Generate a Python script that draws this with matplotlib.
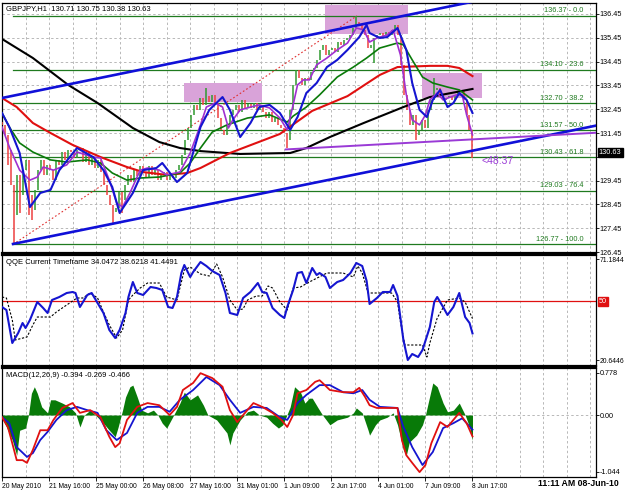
import numpy as np
import matplotlib
matplotlib.use("Agg")
import matplotlib.pyplot as plt
from matplotlib.patches import Rectangle

plt.rcParams['font.family'] = ['Liberation Sans', 'DejaVu Sans']

# ---------------- data ----------------
# x unit: H1 bars since 20 May 2010 00:00
date_ticks = [0, 32, 64, 96, 128, 160, 192, 224, 256, 288, 320]
date_labels = ["20 May 2010", "21 May 16:00", "25 May 00:00", "26 May 08:00",
               "27 May 16:00", "31 May 01:00", "1 Jun 09:00", "2 Jun 17:00",
               "4 Jun 01:00", "7 Jun 09:00", "8 Jun 17:00"]

price_ticks = [126.45, 127.45, 128.45, 129.45, 130.45, 131.45, 132.45,
               133.45, 134.45, 135.45, 136.45]

close = [131.79, 131.37, 130.74, 129.27, 128.00, 129.69, 128.84, 129.89, 130.32, 128.84,
         128.21, 129.06, 129.89, 130.32, 129.69, 130.11, 129.89, 129.47, 130.32, 130.11,
         130.65, 130.32, 130.74, 130.65, 130.40, 130.74, 130.82, 130.23, 130.65, 130.11,
         130.40, 129.98, 130.32, 129.81, 129.27, 128.84, 128.43, 128.13, 128.30, 128.97,
         128.63, 129.27, 129.69, 129.39, 129.89, 129.64, 130.06, 129.81, 129.60, 130.06,
         129.69, 129.89, 129.47, 129.73, 129.81, 129.47, 129.64, 129.56, 129.89, 130.11,
         130.53, 131.16, 131.66, 132.21, 132.63, 132.42, 132.92, 132.63, 133.00, 132.75,
         133.05, 132.71, 132.08, 131.58, 131.37, 131.79, 132.21, 132.42, 132.63, 132.33,
         132.84, 132.50, 132.67, 132.50, 132.71, 132.42, 132.63, 132.33, 132.08, 132.33,
         131.91, 132.08, 131.79, 131.66, 131.45, 131.16, 132.42, 133.47, 134.10, 133.76,
         133.47, 133.76, 133.68, 134.01, 134.18, 134.52, 134.94, 135.15, 134.73, 134.94,
         135.02, 134.85, 135.27, 135.15, 135.36, 135.44, 135.57, 135.86, 136.11, 135.99,
         135.78, 135.57, 135.02, 135.15, 135.44, 135.57, 135.65, 135.53, 135.69, 135.57,
         135.78, 135.99, 135.57, 134.31, 133.05, 132.42, 131.79, 132.21, 131.37, 131.58,
         132.00, 131.66, 132.42, 132.84, 133.26, 133.34, 133.05, 132.84, 132.92, 133.00,
         132.84, 133.05, 133.17, 133.26, 132.84, 132.21, 131.58, 130.63]
first_open = 131.90

wick_idx = [2, 4, 6, 9, 10, 37, 40, 68, 95, 118, 124, 138, 144, 157]
wick_price = [130.10, 126.77, 128.10, 128.00, 127.80, 127.67, 128.10, 133.34, 130.82,
              136.37, 134.40, 131.16, 133.75, 130.38]

black_x = [0, 21, 45, 65, 89, 107, 121, 135, 162, 196, 207, 223, 246, 273, 291, 320]
black_y = [135.40, 134.60, 133.47, 132.71, 131.66, 131.07, 130.82, 130.69, 130.57, 130.61,
           130.82, 131.28, 131.87, 132.54, 132.96, 133.30]

red_x = [0, 10, 21, 33, 48, 67, 85, 96, 112, 126, 135, 155, 189, 211, 235, 257, 269, 291, 303, 311, 320]
red_y = [132.92, 132.54, 131.87, 131.45, 130.95, 130.44, 130.02, 129.81, 129.69, 129.77,
         129.98, 130.61, 131.41, 132.38, 133.00, 133.89, 134.22, 134.27, 134.27, 134.18, 133.84]

green_x = [0, 5, 12, 21, 33, 44, 58, 67, 75, 85, 94, 107, 121, 128, 135, 143, 153, 167, 182,
           194, 198, 207, 216, 228, 239, 248, 257, 269, 273, 279, 286, 293, 303, 311, 320]
green_y = [132.29, 131.70, 131.03, 130.65, 130.32, 130.23, 130.32, 130.19, 129.77, 129.47,
           129.56, 129.60, 129.77, 130.19, 130.82, 131.49, 131.79, 132.08, 132.21, 131.91,
           132.16, 132.54, 133.05, 133.80, 134.22, 134.60, 135.02, 135.23, 135.15, 134.52,
           133.80, 133.55, 133.38, 133.26, 132.84]

blue_x = [0, 5, 12, 19, 26, 33, 39, 51, 62, 69, 75, 80, 89, 96, 105, 109, 119, 126, 135, 141,
          150, 155, 162, 169, 175, 182, 189, 196, 201, 207, 214, 221, 228, 235, 243, 248, 250,
          257, 262, 269, 275, 279, 284, 289, 293, 298, 303, 307, 311, 316, 320]
blue_y = [132.29, 131.70, 130.61, 128.34, 128.93, 129.06, 129.89, 130.82, 130.44, 129.89,
          129.18, 128.09, 128.93, 129.89, 129.98, 130.19, 129.39, 129.77, 131.70, 132.42,
          132.96, 132.42, 131.28, 131.87, 132.54, 132.63, 132.29, 131.58, 132.12, 133.13,
          133.55, 134.22, 134.52, 134.94, 135.48, 135.99, 135.65, 135.44, 135.48, 135.86,
          134.94, 133.55, 132.42, 132.12, 132.84, 133.26, 132.54, 132.71, 133.13, 132.84, 132.29]

purple_x = [0, 5, 12, 19, 24, 28, 35, 44, 51, 62, 67, 73, 78, 82, 87, 94, 99, 107, 112, 121,
            128, 135, 139, 145, 150, 154, 157, 162, 169, 175, 182, 189, 194, 198, 201, 205,
            209, 214, 221, 228, 235, 241, 246, 250, 255, 262, 266, 271, 275, 279, 284, 288,
            291, 296, 300, 305, 309, 313, 316, 320]
purple_y = [131.70, 130.86, 129.89, 129.47, 129.60, 130.02, 129.89, 130.11, 130.65, 130.44,
            130.40, 129.47, 128.51, 128.34, 128.93, 129.89, 129.98, 129.89, 129.69, 129.81,
            130.61, 131.79, 132.54, 132.71, 132.54, 131.66, 132.00, 132.42, 132.54, 132.63,
            132.50, 132.08, 131.58, 132.63, 133.47, 133.68, 133.68, 134.31, 134.60, 134.94,
            135.23, 135.86, 135.78, 135.27, 135.44, 135.57, 135.78, 134.73, 133.05, 132.00,
            131.79, 132.21, 132.84, 133.13, 132.84, 132.96, 133.05, 133.05, 132.21, 131.37]

fib_prices = [136.37, 134.10, 132.70, 131.57, 130.43, 129.03, 126.77]
fib_pcts = ["0.0", "23.6", "38.2", "50.0", "61.8", "76.4", "100.0"]
fib_start_bar = 7.5
fib_high_bar = 241.4

upper_channel_x = [0, 319]
upper_channel_y = [132.92, 136.95]
lower_channel_x = [7.5, 404]
lower_channel_y = [126.79, 131.76]
purple_trend_x = [193, 404]
purple_trend_y = [130.76, 131.46]

boxes = [(123.8, 132.75, 176.8, 133.55), (220.0, 135.61, 276.0, 136.83), (285.6, 132.92, 326.4, 133.97)]

last_price = 130.63

qqe_x = [0, 3, 7, 11, 14, 16, 19, 24, 28, 31, 34, 39, 44, 48, 50, 53, 58, 61, 65, 69, 73, 77,
         80, 84, 86, 89, 92, 96, 101, 105, 109, 113, 116, 119, 122, 124, 128, 130, 135, 139,
         143, 148, 152, 155, 160, 164, 169, 174, 177, 180, 184, 189, 192, 194, 198, 201, 204,
         207, 211, 214, 216, 220, 223, 228, 232, 237, 241, 245, 248, 250, 255, 259, 264, 266,
         269, 273, 276, 279, 283, 286, 291, 294, 296, 300, 303, 307, 311, 315, 318, 320]
qqe_v = [47.2, 45.7, 29.2, 34.2, 39.2, 36.7, 40.7, 49.7, 46.7, 44.2, 50.7, 52.2, 54.2, 54.7,
         54.2, 47.2, 53.2, 54.2, 49.2, 44.2, 35.7, 31.7, 35.7, 44.2, 52.2, 59.7, 54.2, 53.2,
         57.2, 56.7, 55.7, 47.2, 46.7, 52.2, 64.2, 68.2, 62.2, 64.7, 69.7, 67.7, 65.2, 63.2,
         54.2, 44.2, 43.2, 51.7, 54.7, 59.2, 54.7, 54.2, 46.7, 43.2, 41.7, 47.2, 55.7, 64.2,
         64.7, 59.2, 66.7, 63.2, 64.2, 62.2, 56.7, 59.7, 60.7, 64.2, 69.2, 67.7, 60.2, 48.7,
         51.7, 54.7, 54.7, 58.2, 52.7, 30.7, 20.7, 23.7, 22.2, 25.7, 37.2, 49.7, 52.2, 47.2,
         43.2, 47.2, 54.2, 42.2, 39.2, 34.0]
qqe_sig_x = [0, 3, 7, 9, 17, 21, 24, 33, 37, 44, 51, 55, 60, 65, 69, 73, 78, 82, 86, 89, 94,
             99, 107, 112, 119, 122, 124, 128, 135, 141, 146, 150, 155, 160, 164, 167, 173,
             177, 181, 184, 189, 194, 198, 203, 209, 221, 232, 239, 242, 245, 249, 255, 265,
             269, 271, 274, 286, 289, 291, 296, 303, 311, 315, 320]
qqe_sig_v = [52.2, 51.7, 40.7, 30.7, 32.2, 38.2, 42.2, 42.2, 44.7, 48.2, 51.7, 51.7, 54.2,
             51.7, 44.7, 38.2, 31.7, 35.7, 50.7, 53.2, 56.7, 59.2, 59.2, 52.2, 50.7, 59.7,
             65.7, 67.2, 63.7, 62.7, 68.7, 62.2, 50.7, 45.7, 46.2, 50.7, 52.7, 52.7, 57.7,
             56.7, 49.7, 45.7, 56.7, 57.2, 59.7, 64.2, 64.2, 62.2, 67.7, 64.2, 54.2, 54.2,
             54.2, 49.7, 39.7, 28.2, 28.2, 22.2, 29.2, 41.7, 50.7, 51.7, 49.7, 41.4]
qqe_ticks = [71.1844, 20.6446]
qqe_level = 50

hist_x = [0, 3, 7, 10, 12, 16, 18, 20, 22, 24, 27, 31, 33, 36, 41, 46, 50, 53, 56, 60, 65,
          69, 73, 77, 79, 82, 84, 87, 89, 92, 95, 99, 103, 106, 109, 112, 116, 121, 124, 128,
          133, 137, 140, 146, 153, 155, 157, 162, 167, 171, 175, 180, 184, 188, 191, 196, 199,
          203, 206, 209, 211, 215, 218, 223, 228, 235, 239, 241, 245, 249, 250, 254, 257, 262,
          266, 269, 273, 275, 277, 282, 286, 288, 290, 293, 296, 300, 303, 307, 311, 315, 318, 320]
hist_v = [-0.06, -0.22, -0.46, -0.74, -0.28, -0.24, 0.00, 0.40, 0.52, 0.40, 0.15, 0.04, 0.28,
          0.28, 0.22, 0.15, 0.04, -0.22, 0.00, 0.09, -0.04, -0.15, -0.28, -0.40, -0.22, 0.09,
          0.33, 0.52, 0.55, 0.33, 0.09, 0.04, 0.09, 0.00, -0.15, -0.24, -0.04, 0.22, 0.42,
          0.28, 0.37, 0.18, 0.00, -0.09, -0.33, -0.55, -0.33, -0.09, 0.06, 0.09, 0.00, -0.04,
          -0.15, -0.24, -0.18, 0.15, 0.52, 0.42, 0.22, 0.31, 0.31, 0.13, 0.00, -0.18, -0.09,
          -0.04, 0.04, 0.13, 0.04, -0.28, -0.37, -0.18, -0.09, -0.04, 0.04, -0.18, -0.64,
          -0.74, -0.50, -0.37, -0.18, 0.00, 0.24, 0.59, 0.52, 0.22, 0.06, 0.09, 0.22, 0.00,
          -0.22, -0.466]
macd_x = [0, 4, 7, 10, 14, 17, 21, 26, 31, 35, 41, 48, 53, 60, 67, 73, 77, 80, 85, 92, 99,
          107, 114, 119, 123, 130, 135, 143, 150, 155, 160, 164, 171, 177, 184, 190, 194, 198,
          201, 207, 213, 216, 218, 223, 232, 239, 243, 247, 250, 255, 269, 272, 275, 279, 284,
          288, 292, 298, 303, 307, 311, 316, 320]
macd_v = [-0.04, -0.22, -0.52, -0.83, -0.83, -0.88, -0.64, -0.28, -0.28, -0.09, 0.13, 0.22,
          0.04, 0.09, -0.04, -0.40, -0.59, -0.52, -0.09, 0.15, 0.22, 0.18, 0.00, 0.15, 0.46,
          0.59, 0.77, 0.68, 0.52, 0.09, -0.13, 0.00, 0.22, 0.15, 0.04, -0.09, -0.22, 0.00,
          0.40, 0.46, 0.61, 0.64, 0.59, 0.46, 0.42, 0.42, 0.50, 0.33, 0.18, 0.13, 0.13, -0.46,
          -0.74, -0.88, -1.05, -0.92, -0.52, -0.13, -0.22, -0.09, 0.04, -0.15, -0.394]
signal_x = [0, 5, 10, 17, 21, 26, 31, 37, 44, 51, 58, 65, 71, 78, 85, 92, 99, 107, 114, 121,
            130, 139, 148, 155, 162, 171, 180, 189, 194, 201, 207, 216, 223, 232, 239, 245,
            250, 257, 269, 273, 279, 286, 293, 300, 307, 313, 320]
signal_v = [-0.04, -0.15, -0.59, -0.77, -0.70, -0.46, -0.31, -0.09, 0.09, 0.15, 0.09, 0.04,
            -0.28, -0.46, -0.33, 0.04, 0.15, 0.15, 0.06, 0.28, 0.46, 0.70, 0.55, 0.28, 0.04,
            0.15, 0.13, -0.04, -0.09, 0.22, 0.37, 0.55, 0.55, 0.42, 0.40, 0.46, 0.28, 0.15,
            0.13, -0.22, -0.59, -0.92, -0.68, -0.24, -0.15, -0.06, -0.269]
macd_ticks = [0.778, 0.0, -1.044]
macd_tick_labels = ["0.778", "0.00", "-1.044"]

# ---------------- figure ----------------
W, H = 625, 491
fig = plt.figure(figsize=(W / 100, H / 100), dpi=100)
fig.patch.set_facecolor("white")

def ax_px(left, top, right, bottom):
    return fig.add_axes([left / W, 1 - bottom / H, (right - left) / W, (bottom - top) / H])

ax_main = ax_px(2, 3, 596, 253)
ax_qqe = ax_px(2, 255, 596, 366)
ax_macd = ax_px(2, 368, 596, 477)

XMAX = 404
grid_kw = dict(color="#b8b8b8", lw=0.7, ls=(0, (2.5, 2.5)), zorder=0.5)
tick_font = 5.2

for ax in (ax_main, ax_qqe, ax_macd):
    ax.set_xlim(0, XMAX)
    ax.set_facecolor("white")
    for g in np.arange(0, XMAX, 16):
        ax.axvline(g, **grid_kw)
    ax.yaxis.tick_right()
    ax.tick_params(axis="y", labelsize=tick_font, length=2, width=0.6, pad=0.8)
    ax.tick_params(axis="x", length=0, labelbottom=False)
    for s in ax.spines.values():
        s.set_color("black")
        s.set_linewidth(0.9)
ax_main.spines["bottom"].set_linewidth(1.6)
ax_qqe.spines["top"].set_linewidth(1.6)
ax_qqe.spines["bottom"].set_linewidth(1.6)
ax_macd.spines["top"].set_linewidth(1.6)

# ---------------- main panel ----------------
ax = ax_main
ax.set_ylim(126.41, 136.91)
ax.set_yticks(price_ticks)
# the 130.45 label is hidden behind the last-price box in the reference
ax.set_yticklabels(["" if abs(p - 130.45) < 1e-6 else f"{p:.2f}" for p in price_ticks])
for p in price_ticks:
    ax.axhline(p, **grid_kw)

for (x0, y0, x1, y1) in boxes:
    ax.add_patch(Rectangle((x0, y0), x1 - x0, y1 - y0, facecolor="#d9a3d9",
                           edgecolor="none", zorder=1))

ax.axhline(last_price, color="#c8c8c8", lw=0.8, zorder=1.2)

for fp, pct in zip(fib_prices, fib_pcts):
    ax.plot([fib_start_bar, XMAX], [fp, fp], color="#1f7a1f", lw=0.9, zorder=2)
    ax.text(395.5, fp + 0.06, f"{fp:.2f} - {pct}", color="#1f7a1f", fontsize=5.3,
            ha="right", va="bottom", zorder=6)
ax.plot([fib_start_bar, fib_high_bar], [fib_prices[-1], fib_prices[0]], color="#e03030",
        lw=0.8, ls=(0, (1.5, 2)), zorder=2)

cx = np.linspace(0, 320, len(close))
opens = [first_open] + close[:-1]
lo = np.minimum(opens, close).astype(float)
hi = np.maximum(opens, close).astype(float)
for i, wp in zip(wick_idx, wick_price):
    lo[i] = min(lo[i], wp)
    hi[i] = max(hi[i], wp)
cols = ["#2f9a2f" if c >= o else "#ee4040" for o, c in zip(opens, close)]
ax.vlines(cx, lo, hi, colors=cols, lw=1.1, zorder=3)

ax.plot(black_x, black_y, color="black", lw=1.5, zorder=4)
ax.plot(red_x, red_y, color="#e01010", lw=1.5, zorder=4)
ax.plot(green_x, green_y, color="#0a7a0a", lw=1.2, zorder=4)
ax.plot(purple_x, purple_y, color="#a030d0", lw=1.2, zorder=4.2)
ax.plot(blue_x, blue_y, color="#1515d0", lw=1.5, zorder=4.3)

ax.plot(upper_channel_x, upper_channel_y, color="#1010d8", lw=1.9, zorder=5)
ax.plot(lower_channel_x, lower_channel_y, color="#1010d8", lw=1.9, zorder=5)
ax.plot(purple_trend_x, purple_trend_y, color="#9a3ad6", lw=1.4, zorder=5)

ax.text(326, 130.28, "<48:37", color="#9a3ad6", fontsize=7.5, ha="left", va="center", zorder=6)
ax.text(0.006, 0.992, "GBPJPY,H1  130.71 130.75 130.38 130.63", transform=ax.transAxes,
        fontsize=5.5, va="top", ha="left", zorder=7)
ax.annotate(f"{last_price:.2f}", xy=(1.0, last_price), xycoords=("axes fraction", "data"),
            xytext=(2, 0), textcoords="offset points", fontsize=5.3, color="white",
            va="center", ha="left", annotation_clip=False, zorder=10,
            bbox=dict(boxstyle="square,pad=0.15", fc="black", ec="black"))

# ---------------- QQE panel ----------------
ax = ax_qqe
ax.set_ylim(17.7, 73.2)
ax.set_yticks(qqe_ticks)
ax.set_yticklabels([f"{v:.4f}" for v in qqe_ticks])
ax.tick_params(axis="y", labelsize=4.9)
ax.axhline(qqe_level, color="#e01010", lw=0.9, zorder=1)
ax.plot(qqe_sig_x, qqe_sig_v, color="black", lw=0.8, ls=(0, (2, 1.5)), zorder=3)
ax.plot(qqe_x, qqe_v, color="#1515d0", lw=1.5, zorder=4)
ax.text(0.006, 0.965, "QQE Current Timeframe 34.0472 38.6218 41.4491", transform=ax.transAxes,
        fontsize=5.5, va="top", ha="left")
ax.annotate(f"{qqe_level}", xy=(1.0, qqe_level), xycoords=("axes fraction", "data"),
            xytext=(2, 0), textcoords="offset points", fontsize=5.3, color="white",
            va="center", ha="left", annotation_clip=False, zorder=10,
            bbox=dict(boxstyle="square,pad=0.12", fc="#e01010", ec="#e01010"))

# ---------------- MACD panel ----------------
ax = ax_macd
ax.set_ylim(-1.14, 0.865)
ax.set_yticks(macd_ticks)
ax.set_yticklabels(macd_tick_labels)
ax.axhline(0, **grid_kw)
ax.fill_between(hist_x, 0, hist_v, color="#087a08", lw=0, zorder=2)
ax.plot(signal_x, signal_v, color="#1515d0", lw=1.3, zorder=4)
ax.plot(macd_x, macd_v, color="#e01010", lw=1.3, zorder=4.2)
ax.text(0.006, 0.965, "MACD(12,26,9) -0.394 -0.269 -0.466", transform=ax.transAxes,
        fontsize=5.5, va="top", ha="left")
ax.set_xticks(date_ticks)
ax.set_xticklabels(date_labels)
ax.tick_params(axis="x", length=3, width=0.6, labelbottom=True, labelsize=4.9, pad=1.5)
for lab in ax.get_xticklabels():
    lab.set_ha("left")

fig.text(538 / W, 1 - 484 / H, "11:11 AM 08-Jun-10", fontsize=6.3, fontweight="bold",
         ha="left", va="center")

fig.savefig("out.png", dpi=100, facecolor="white")
